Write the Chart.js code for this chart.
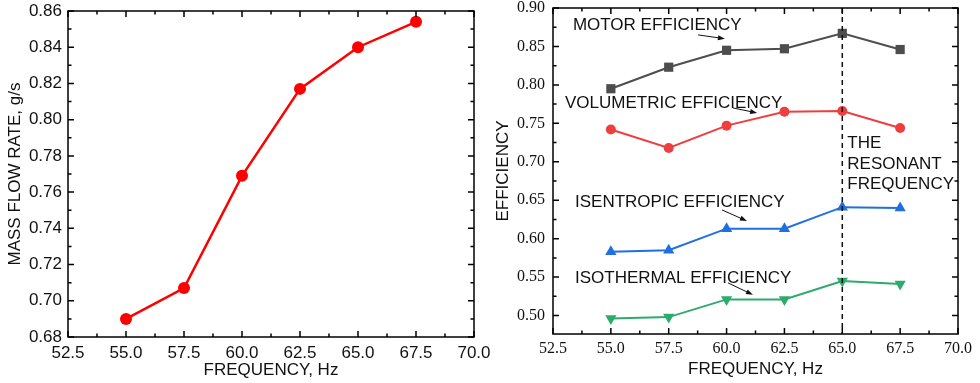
<!DOCTYPE html>
<html>
<head>
<meta charset="utf-8">
<script src="https://cdn.jsdelivr.net/npm/chart.js@4.4.1/dist/chart.umd.min.js"></script>
<style>
  body { margin: 0; background: #fff; }
  .wrap { position: relative; width: 980px; height: 383px; }
  canvas { position: absolute; top: 0; }
  #flow { left: 0; }
  #eff { left: 490px; }
</style>
</head>
<body>
<div class="wrap">
  <canvas id="flow" width="490" height="383"></canvas>
  <canvas id="eff" width="490" height="383"></canvas>
</div>
<script>
// --- data ---
const freq = [55.0, 57.5, 60.0, 62.5, 65.0, 67.5];
const massFlow = [0.690, 0.707, 0.769, 0.817, 0.840, 0.854];

const motorEff = [0.795, 0.823, 0.845, 0.847, 0.867, 0.846];
const volumetricEff = [0.742, 0.718, 0.747, 0.765, 0.766, 0.744];
const isentropicEff = [0.583, 0.585, 0.613, 0.613, 0.641, 0.640];
const isothermalEff = [0.496, 0.498, 0.521, 0.521, 0.545, 0.541];

const freqTicks = [52.5, 55.0, 57.5, 60.0, 62.5, 65.0, 67.5, 70.0];
const flowTicks = [0.68, 0.70, 0.72, 0.74, 0.76, 0.78, 0.80, 0.82, 0.84, 0.86];
const effTicks = [0.50, 0.55, 0.60, 0.65, 0.70, 0.75, 0.80, 0.85, 0.90];

const resonantFreq = 65.0;

// labels with arrows: text anchor (x, y) and arrow from -> to, in data units
const seriesNotes = [
  { text: "MOTOR EFFICIENCY", x: 53.36, y: 0.878, ax: 58.77, ay: 0.865, bx: 59.93, by: 0.860 },
  { text: "VOLUMETRIC EFFICIENCY", x: 53.02, y: 0.7765, ax: 60.28, ay: 0.770, bx: 61.32, by: 0.7635 },
  { text: "ISENTROPIC EFFICIENCY", x: 53.45, y: 0.6478, ax: 59.80, ay: 0.6374, bx: 60.88, by: 0.623 },
  { text: "ISOTHERMAL EFFICIENCY", x: 53.45, y: 0.549, ax: 60.06, ay: 0.5425, bx: 61.14, by: 0.527 }
];
const resonantNote = ["THE", "RESONANT", "FREQUENCY"];
const resonantNoteY = [0.7245, 0.697, 0.671];

const pts = (ys) => freq.map((f, i) => ({ x: f, y: ys[i] }));

function mids(vals) {
  const out = [];
  for (let i = 0; i < vals.length - 1; i++) out.push((vals[i] + vals[i + 1]) / 2);
  return out;
}

// box frame with inward major and minor ticks on all four sides
const frame = {
  id: 'frame',
  afterDraw(chart) {
    const { ctx, chartArea: a, scales: { x, y } } = chart;
    const xs = x.ticks.map(t => t.value);
    const ys = y.ticks.map(t => t.value);
    ctx.save();
    ctx.strokeStyle = '#000';
    ctx.lineWidth = 1.5;
    ctx.beginPath();
    const tx = (v, len) => {
      const p = x.getPixelForValue(v);
      ctx.moveTo(p, a.bottom); ctx.lineTo(p, a.bottom - len);
      ctx.moveTo(p, a.top); ctx.lineTo(p, a.top + len);
    };
    const ty = (v, len) => {
      const p = y.getPixelForValue(v);
      ctx.moveTo(a.left, p); ctx.lineTo(a.left + len, p);
      ctx.moveTo(a.right, p); ctx.lineTo(a.right - len, p);
    };
    xs.forEach(v => tx(v, 6));
    mids(xs).forEach(v => tx(v, 3.5));
    ys.forEach(v => ty(v, 6));
    mids(ys).forEach(v => ty(v, 3.5));
    ctx.stroke();
    ctx.strokeRect(a.left, a.top, a.right - a.left, a.bottom - a.top);
    ctx.restore();
  }
};

// dashed resonant line and the text notes on the efficiency chart
const notes = {
  id: 'notes',
  afterDatasetsDraw(chart) {
    const { ctx, chartArea: a, scales: { x, y } } = chart;
    ctx.save();
    const rx = x.getPixelForValue(resonantFreq);
    ctx.strokeStyle = '#111';
    ctx.lineWidth = 1.5;
    ctx.setLineDash([5, 4]);
    ctx.beginPath();
    ctx.moveTo(rx, a.top);
    ctx.lineTo(rx, a.bottom);
    ctx.stroke();
    ctx.setLineDash([]);

    ctx.fillStyle = '#111';
    ctx.font = '17px "Liberation Sans", Arial, sans-serif';
    ctx.textBaseline = 'middle';
    ctx.textAlign = 'left';
    seriesNotes.forEach(n => {
      ctx.fillText(n.text, x.getPixelForValue(n.x), y.getPixelForValue(n.y));
      const x1 = x.getPixelForValue(n.ax), y1 = y.getPixelForValue(n.ay);
      const x2 = x.getPixelForValue(n.bx), y2 = y.getPixelForValue(n.by);
      const ang = Math.atan2(y2 - y1, x2 - x1);
      ctx.lineWidth = 1;
      ctx.beginPath();
      ctx.moveTo(x1, y1);
      ctx.lineTo(x2 - 5 * Math.cos(ang), y2 - 5 * Math.sin(ang));
      ctx.stroke();
      ctx.beginPath();
      ctx.moveTo(x2, y2);
      ctx.lineTo(x2 - 7 * Math.cos(ang) + 2.5 * Math.sin(ang), y2 - 7 * Math.sin(ang) - 2.5 * Math.cos(ang));
      ctx.lineTo(x2 - 7 * Math.cos(ang) - 2.5 * Math.sin(ang), y2 - 7 * Math.sin(ang) + 2.5 * Math.cos(ang));
      ctx.closePath();
      ctx.fill();
    });
    resonantNote.forEach((t, i) => {
      ctx.fillText(t, rx + 5, y.getPixelForValue(resonantNoteY[i]));
    });
    ctx.restore();
  }
};

const sans = '"Liberation Sans", Arial, sans-serif';
const serif = '"Liberation Serif", "Times New Roman", serif';

function xScale(tickFont, tickPad, axisH, titlePad) {
  return {
    type: 'linear', min: 52.5, max: 70,
    afterBuildTicks: s => { s.ticks = freqTicks.map(v => ({ value: v })); },
    afterFit: s => { s.height = axisH; s.paddingLeft = 0; s.paddingRight = 0; },
    grid: { display: false, drawTicks: false, tickLength: 0 },
    border: { display: false },
    ticks: {
      font: tickFont, color: '#111', padding: tickPad, maxRotation: 0, autoSkip: false,
      callback: v => v.toFixed(1)
    },
    title: {
      display: true, text: 'FREQUENCY, Hz', color: '#111',
      font: { family: sans, size: 17 }, padding: { top: 0, bottom: titlePad }
    }
  };
}

function yScale(min, max, tickList, tickFont, tickPad, axisW, title, titlePad) {
  return {
    type: 'linear', min: min, max: max,
    afterBuildTicks: s => { s.ticks = tickList.map(v => ({ value: v })); },
    afterFit: s => { s.width = axisW; s.paddingTop = 0; s.paddingBottom = 0; },
    grid: { display: false, drawTicks: false, tickLength: 0 },
    border: { display: false },
    ticks: { font: tickFont, color: '#111', padding: tickPad, autoSkip: false, callback: v => v.toFixed(2) },
    title: {
      display: true, text: title, color: '#111',
      font: { family: sans, size: 17 }, padding: { top: titlePad, bottom: 0 }
    }
  };
}

new Chart(document.getElementById('flow'), {
  type: 'line',
  data: {
    datasets: [{
      label: 'Mass flow rate',
      data: pts(massFlow),
      borderColor: '#ff0000',
      backgroundColor: '#ff0000',
      borderWidth: 2.5,
      pointRadius: 6,
      pointStyle: 'circle',
      pointBorderWidth: 0,
      tension: 0
    }]
  },
  options: {
    responsive: false,
    animation: false,
    devicePixelRatio: 1,
    layout: { padding: { left: 0, right: 16, top: 11, bottom: 0 } },
    plugins: { legend: { display: false }, tooltip: { enabled: false } },
    scales: {
      x: xScale({ family: sans, size: 17 }, 6, 46, 2.6),
      y: yScale(0.68, 0.86, flowTicks, { family: sans, size: 17 }, 6, 68, 'MASS FLOW RATE, g/s', 5)
    }
  },
  plugins: [frame]
});

function effSet(label, ys, color, style, radius, rot) {
  return {
    label: label, data: pts(ys),
    borderColor: color, backgroundColor: color,
    borderWidth: 2, pointRadius: radius, pointStyle: style,
    pointRotation: rot, pointBorderWidth: 0, tension: 0
  };
}

new Chart(document.getElementById('eff'), {
  type: 'line',
  data: {
    datasets: [
      effSet('Motor efficiency', motorEff, '#4d4d4d', 'rect', 6.5, 0),
      effSet('Volumetric efficiency', volumetricEff, '#ee3e3e', 'circle', 5, 0),
      effSet('Isentropic efficiency', isentropicEff, '#1f6fe0', 'triangle', 6.5, 0),
      effSet('Isothermal efficiency', isothermalEff, '#2eab6b', 'triangle', 6.5, 180)
    ]
  },
  options: {
    responsive: false,
    animation: false,
    devicePixelRatio: 1,
    layout: { padding: { left: 0, right: 22, top: 8, bottom: 0 } },
    plugins: { legend: { display: false }, tooltip: { enabled: false } },
    scales: {
      x: xScale({ family: serif, size: 16 }, 5, 49, 3.8),
      y: yScale(0.476, 0.90, effTicks, { family: serif, size: 16 }, 8, 63, 'EFFICIENCY', 3)
    }
  },
  plugins: [notes, frame]
});
</script>
</body>
</html>
